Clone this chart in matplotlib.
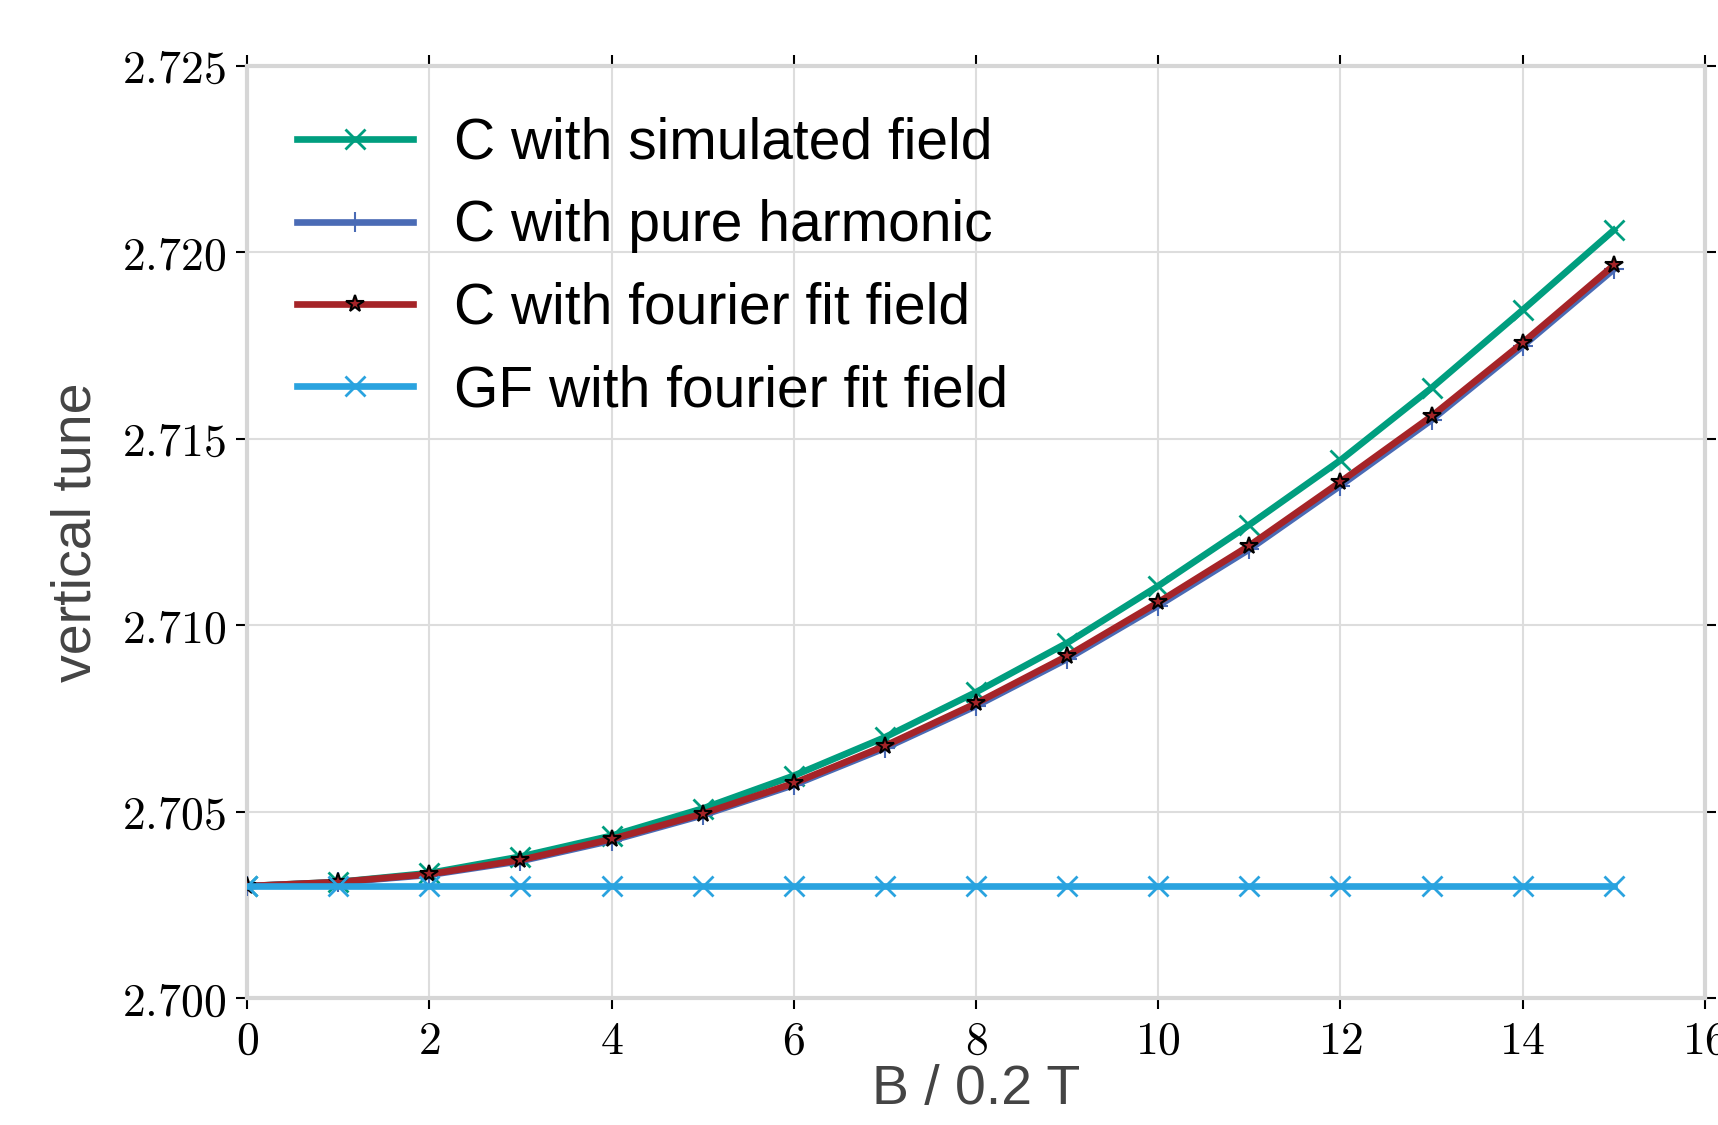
import matplotlib
matplotlib.use("Agg")
import matplotlib.pyplot as plt

# ---- data ----
B = list(range(16))
sim_field = [2.70300, 2.70311, 2.70335, 2.70379, 2.70435, 2.70508, 2.70596, 2.70699,
             2.70820, 2.70952, 2.71105, 2.71269, 2.71442, 2.71636, 2.71845, 2.72059]
pure_harm = [2.70300, 2.70310, 2.70330, 2.70367, 2.70422, 2.70490, 2.70571, 2.70670,
             2.70783, 2.70909, 2.71052, 2.71203, 2.71374, 2.71550, 2.71748, 2.71954]
fourier_fit = [2.70300, 2.70311, 2.70332, 2.70370, 2.70426, 2.70494, 2.70576, 2.70676,
               2.70790, 2.70917, 2.71061, 2.71213, 2.71384, 2.71560, 2.71757, 2.71965]
gf_fourier = [2.70300] * 16

labels = ["C with simulated field", "C with pure harmonic",
          "C with fourier fit field", "GF with fourier fit field"]
xticks = [0, 2, 4, 6, 8, 10, 12, 14, 16]
yticks = [2.700, 2.705, 2.710, 2.715, 2.720, 2.725]

plt.rcParams['mathtext.fontset'] = 'cm'

fig = plt.figure(figsize=(17.18, 11.25), dpi=100)
ax = fig.add_axes([0.1438, 0.1129, 0.8486, 0.8287])

ax.plot(B, sim_field, color="#009E7F", lw=4.8, marker="x", ms=14, mew=2, label=labels[0], zorder=3)
ax.plot(B, pure_harm, color="#4A6BB5", lw=4.8, marker="+", ms=14, mew=1.5, label=labels[1], zorder=4)
ax.plot(B, fourier_fit, color="#A52428", lw=4.8, marker="*", ms=13, mew=1.5,
        mec="black", mfc="#A52428", label=labels[2], zorder=5)
ax.plot(B, gf_fourier, color="#2AA3DF", lw=4.8, marker="x", ms=14, mew=2, label=labels[3], zorder=6)

ax.set_xlim(0, 16)
ax.set_ylim(2.700, 2.725)
ax.set_xticks(xticks)
ax.set_xticklabels([f"${t}$" for t in xticks])
ax.set_yticks(yticks)
ax.set_yticklabels([f"${t:.3f}$" for t in yticks])

ax.grid(True, color="#dddddd", lw=1.5)
ax.set_axisbelow(True)
for s in ax.spines.values():
    s.set_color("#d6d6d6")
    s.set_linewidth(3)

ax.tick_params(axis="both", which="both", direction="out", length=8, width=1.5,
               color="black", labelsize=33, top=True, right=True,
               labeltop=False, labelright=False, pad=7)

ax.set_xlabel("B / 0.2 T", fontsize=40, color="#444444", family="Liberation Sans", labelpad=0)
ax.set_ylabel("vertical tune", fontsize=40, color="#444444", family="Liberation Sans", labelpad=14)

leg = ax.legend(loc="upper left", frameon=False, prop={"family": "Liberation Sans", "size": 41},
                handlelength=2.05, handletextpad=0.72, labelspacing=0.5,
                borderaxespad=0, borderpad=0, bbox_to_anchor=(0.034, 0.945))

fig.savefig("out.png", dpi=100)
